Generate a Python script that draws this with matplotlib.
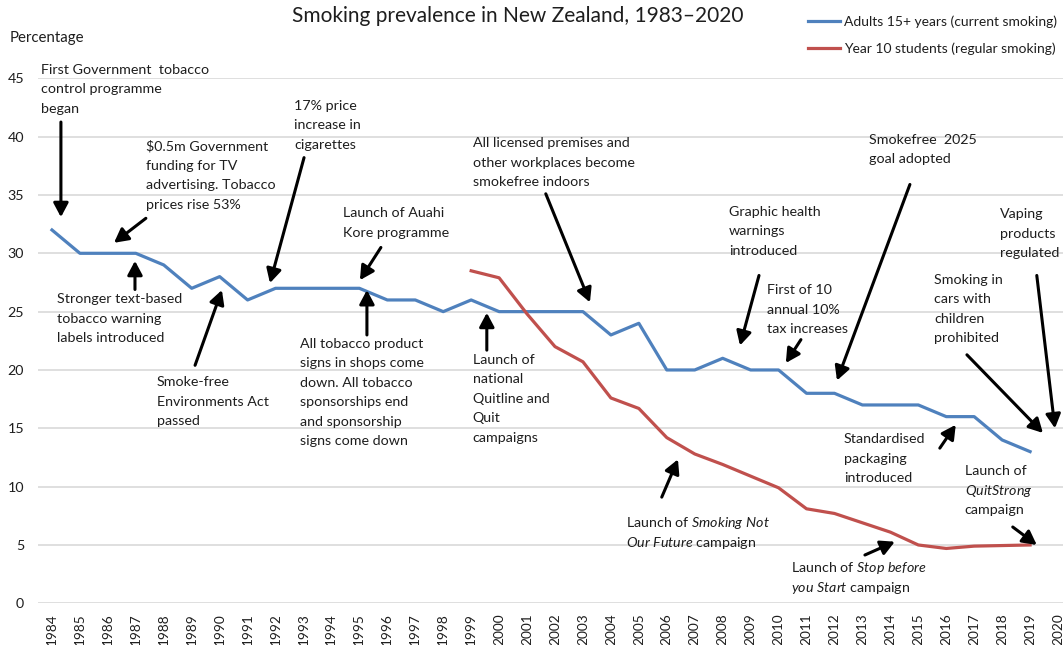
import matplotlib
matplotlib.use("Agg")
import matplotlib.pyplot as plt
import numpy as np

plt.rcParams['font.family'] = ['Lato', 'DejaVu Sans']
plt.rcParams['mathtext.fontset'] = 'custom'
plt.rcParams['mathtext.rm'] = 'Lato'
plt.rcParams['mathtext.it'] = 'Lato:italic'

years = [str(y) for y in range(1984, 2021)]

# adults 15+ (current smoking), 1984-2019
adults = [32, 30, 30, 30, 29, 27, 28, 26, 27, 27, 27, 27, 26, 26, 25, 26,
          25, 25, 25, 25, 23, 24, 20, 20, 21, 20, 20, 18, 18, 17, 17, 17,
          16, 16, 14, 13]
# year 10 students (regular smoking), 1999-2019
year10_start = 1999
year10 = [28.5, 27.9, 24.8, 22.0, 20.7, 17.6, 16.7, 14.2, 12.8, 11.9, 10.9,
          9.9, 8.1, 7.7, 6.9, 6.1, 5.0, 4.7, 4.9, 4.95, 5.0]

# (text, text position, arrow start, arrow end)
notes = [
    ("First Government  tobacco\ncontrol programme\nbegan", (-0.39, 46.3), (0.32, 41.25), (0.32, 33.1)),
    ("\\$0.5m Government\nfunding for TV\nadvertising. Tobacco\nprices rise 53%", (3.36, 39.75), (3.36, 33.0), (2.22, 30.9)),
    ("17% price\nincrease in\ncigarettes", (8.66, 43.2), (9.02, 38.2), (7.80, 27.45)),
    ("Launch of Auahi\nKore programme", (10.4, 34.0), (11.77, 30.5), (11.02, 27.7)),
    ("Stronger text-based\ntobacco warning\nlabels introduced", (0.18, 26.6), (2.97, 26.9), (2.97, 29.35)),
    ("Smoke-free\nEnvironments Act\npassed", (3.76, 19.5), (5.12, 20.4), (6.08, 26.85)),
    ("All tobacco product\nsigns in shops come\ndown. All tobacco\nsponsorships end\nand sponsorship\nsigns come down",
     (8.87, 22.8), (11.27, 23.0), (11.27, 26.85)),
    ("All licensed premises and\nother workplaces become\nsmokefree indoors", (15.06, 40.0), (17.67, 35.1), (19.25, 25.8)),
    ("Launch of\nnational\nQuitline and\nQuit\ncampaigns", (15.06, 21.45), (15.56, 21.7), (15.56, 24.9)),
    ("Graphic health\nwarnings\nintroduced", (24.22, 34.1), (25.30, 28.1), (24.62, 22.1)),
    ("First of 10\nannual 10%\ntax increases", (25.58, 27.4), (26.80, 22.6), (26.26, 20.6)),
    ("Smokefree  2025\ngoal adopted", (29.23, 40.3), (30.70, 35.9), (28.09, 19.1)),
    ("Vaping\nproducts\nregulated", (33.92, 33.9), (35.24, 28.1), (35.89, 15.0)),
    ("Smoking in\ncars with\nchildren\nprohibited", (31.56, 28.3), (32.74, 21.3), (35.46, 14.6)),
    ("Standardised\npackaging\nintroduced", (28.34, 14.6), (31.77, 13.3), (32.34, 15.3)),
    ("Launch of\n$\\mathit{QuitStrong}$\ncampaign", (32.66, 11.86), (34.38, 6.54), (35.24, 5.0)),
    ("Launch of $\\mathit{Stop\\ before}$\n$\\mathit{you\\ Start}$ campaign", (26.43, 3.57), (29.09, 4.14), (30.16, 5.28)),
    ("Launch of $\\mathit{Smoking\\ Not}$\n$\\mathit{Our\\ Future}$ campaign", (20.54, 7.42), (21.82, 9.1), (22.40, 12.34)),
]

blue = '#4F81BD'
red = '#C0504D'
txt = '#1e1e1e'

fig = plt.figure(figsize=(10.63, 6.45), dpi=100)
ax = fig.add_axes([38 / 1063, 41.7 / 645, 1034 / 1063, 525 / 645])

x = np.arange(len(years))
ax.plot(x[:len(adults)], adults, color=blue, lw=2.3, label='Adults 15+ years (current smoking)')
off = years.index(str(year10_start))
ax.plot(x[off:off + len(year10)], year10, color=red, lw=2.3, label='Year 10 students (regular smoking)')

ax.set_xlim(-0.5, len(years) - 0.5)
ax.set_ylim(0, 45)
ax.set_yticks(range(0, 50, 5))
ax.set_xticks(x)
ax.set_xticklabels(years, rotation=90, fontsize=9.8, color=txt)
ax.tick_params(axis='y', length=0, pad=10, labelsize=10.3, labelcolor=txt)
ax.tick_params(axis='x', length=0, pad=7)
ax.grid(axis='y', color='#D9D9D9', lw=1.2)
ax.set_axisbelow(True)
for s in ax.spines.values():
    s.set_visible(False)

# each note line placed on its own baseline, 19.5 px apart
line_gap = 19.5
first_base = 10.5
for label, tpos, a0, a1 in notes:
    for i, line in enumerate(label.split('\n')):
        ax.annotate(line, xy=tpos, xycoords='data',
                    xytext=(0, -(first_base + i * line_gap)), textcoords='offset pixels',
                    fontsize=10.3, color=txt, va='baseline', ha='left',
                    annotation_clip=False)
    ax.annotate('', xy=a1, xytext=a0,
                arrowprops=dict(arrowstyle='-|>,head_length=0.6,head_width=0.32',
                                color='black', lw=2.2, mutation_scale=14,
                                shrinkA=0, shrinkB=0))

fig.text(518 / 1063, 1 - 6 / 645, 'Smoking prevalence in New Zealand, 1983\u20132020',
         ha='center', va='top', fontsize=15, color=txt)
fig.text(10 / 1063, 1 - 38 / 645, 'Percentage', ha='left', va='center', fontsize=10.8, color=txt)

fig.legend(loc='upper left', bbox_to_anchor=(808 / 1063, 1 - 15 / 645), frameon=False,
           fontsize=10, handlelength=2.3, handletextpad=0.3, labelspacing=1.05,
           borderpad=0, borderaxespad=0, labelcolor=txt)

fig.savefig('out.png', dpi=100)
